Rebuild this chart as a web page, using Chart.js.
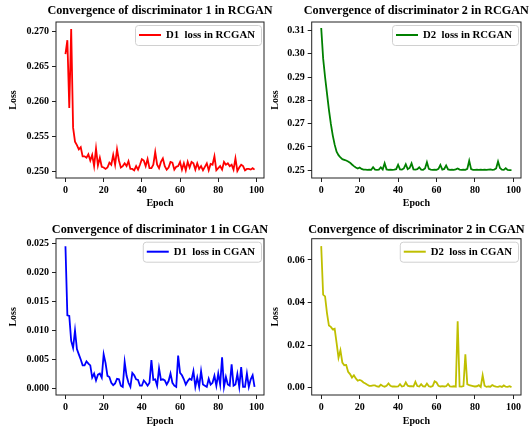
<!DOCTYPE html>
<html>
<head>
<meta charset="utf-8">
<script src="https://cdn.jsdelivr.net/npm/chart.js@4/dist/chart.umd.min.js"></script>
<style>
  html, body { margin:0; padding:0; background:#fff; overflow:hidden; }
  #wrap { position:relative; width:529px; height:432px; }
  canvas { position:absolute; }
</style>
</head>
<body>
<div id="wrap">
  <canvas id="c1" width="280" height="216" style="left:0px;top:0px;"></canvas>
  <canvas id="c2" width="265" height="216" style="left:264px;top:0px;"></canvas>
  <canvas id="c3" width="280" height="216" style="left:0px;top:216px;"></canvas>
  <canvas id="c4" width="265" height="216" style="left:264px;top:216px;"></canvas>
</div>
<script>
const serif = "'Liberation Serif', 'DejaVu Serif', 'Times New Roman', serif";

// epochs 0..99
const epochs = Array.from({ length: 100 }, (_, i) => i);
const xTicks = [0, 20, 40, 60, 80, 100];

const d1Rcgan = [
  0.2668, 0.2688, 0.2591, 0.2704, 0.2563, 0.2543, 0.2538, 0.2532, 0.2535, 0.2522,
  0.2522, 0.2520, 0.2525, 0.2516, 0.2524, 0.2508, 0.2533, 0.2509, 0.2520, 0.2507,
  0.2506, 0.2504, 0.2506, 0.2513, 0.2510, 0.2524, 0.2510, 0.2532, 0.2516, 0.2506,
  0.2508, 0.2512, 0.2508, 0.2515, 0.2504, 0.2504, 0.2502, 0.2508, 0.2503, 0.2510,
  0.2518, 0.2516, 0.2508, 0.2518, 0.2505, 0.2505, 0.2510, 0.2528, 0.2510, 0.2505,
  0.2514, 0.2519, 0.2508, 0.2503, 0.2506, 0.2514, 0.2513, 0.2503, 0.2507, 0.2508,
  0.2514, 0.2503, 0.2512, 0.2502, 0.2514, 0.2506, 0.2514, 0.2512, 0.2503, 0.2512,
  0.2504, 0.2508, 0.2502, 0.2507, 0.2512, 0.2502, 0.2511, 0.2510, 0.2522, 0.2502,
  0.2505, 0.2508, 0.2503, 0.2514, 0.2510, 0.2512, 0.2508, 0.2510, 0.2503, 0.2519,
  0.2501, 0.2506, 0.2510, 0.2508, 0.2502, 0.2504, 0.2504, 0.2503, 0.2505, 0.2503
];

const d2Rcgan = [
  0.3110, 0.2980, 0.2900, 0.2830, 0.2760, 0.2700, 0.2650, 0.2610, 0.2580, 0.2565,
  0.2555, 0.2548, 0.2545, 0.2542, 0.2538, 0.2533, 0.2525, 0.2518, 0.2512, 0.2508,
  0.2512, 0.2506, 0.2503, 0.2503, 0.2502, 0.2503, 0.2502, 0.2513, 0.2503, 0.2502,
  0.2503, 0.2513, 0.2504, 0.2530, 0.2504, 0.2502, 0.2503, 0.2502, 0.2503, 0.2505,
  0.2524, 0.2504, 0.2503, 0.2508, 0.2526, 0.2505, 0.2510, 0.2530, 0.2504, 0.2503,
  0.2505, 0.2513, 0.2503, 0.2502, 0.2508, 0.2535, 0.2506, 0.2503, 0.2502, 0.2503,
  0.2502, 0.2506, 0.2523, 0.2503, 0.2506, 0.2521, 0.2504, 0.2502, 0.2503, 0.2502,
  0.2504, 0.2508, 0.2503, 0.2502, 0.2503, 0.2502, 0.2506, 0.2541, 0.2505, 0.2502,
  0.2502, 0.2503, 0.2502, 0.2503, 0.2502, 0.2503, 0.2502, 0.2503, 0.2504, 0.2502,
  0.2503, 0.2508, 0.2538, 0.2510, 0.2503, 0.2502, 0.2509, 0.2502, 0.2501, 0.2501
];

const d1Cgan = [
  0.0245, 0.0126, 0.0125, 0.0082, 0.0070, 0.0100, 0.0068, 0.0059, 0.0050, 0.0040,
  0.0040, 0.0047, 0.0043, 0.0040, 0.0019, 0.0026, 0.0014, 0.0024, 0.0026, 0.0019,
  0.0059, 0.0044, 0.0022, 0.0020, 0.0010, 0.0006, 0.0009, 0.0017, 0.0016, 0.0005,
  0.0003, 0.0046, 0.0022, 0.0010, 0.0003, 0.0027, 0.0023, 0.0016, 0.0015, 0.0005,
  0.0005, 0.0014, 0.0010, 0.0005, 0.0010, 0.0049, 0.0015, 0.0016, 0.0005, 0.0035,
  0.0015, 0.0016, 0.0014, 0.0007, 0.0013, 0.0026, 0.0010, 0.0005, 0.0003, 0.0057,
  0.0027, 0.0023, 0.0016, 0.0007, 0.0013, 0.0017, 0.0015, 0.0030, 0.0003, 0.0019,
  0.0003, 0.0030, 0.0007, 0.0005, 0.0003, 0.0017, 0.0007, 0.0010, 0.0022, 0.0005,
  0.0026, 0.0007, 0.0054, 0.0003, 0.0020, 0.0007, 0.0005, 0.0042, 0.0005, 0.0007,
  0.0025, 0.0003, 0.0037, 0.0003, 0.0003, 0.0026, 0.0003, 0.0016, 0.0023, 0.0003
];

const d2Cgan = [
  0.0665, 0.0437, 0.0429, 0.0351, 0.0292, 0.0286, 0.0274, 0.0277, 0.0211, 0.0141,
  0.0176, 0.0118, 0.0106, 0.0107, 0.0075, 0.0064, 0.0048, 0.0059, 0.0044, 0.0033,
  0.0037, 0.0033, 0.0025, 0.0020, 0.0014, 0.0009, 0.0009, 0.0011, 0.0011, 0.0006,
  0.0005, 0.0014, 0.0008, 0.0005, 0.0009, 0.0020, 0.0009, 0.0006, 0.0006, 0.0005,
  0.0006, 0.0017, 0.0006, 0.0008, 0.0025, 0.0010, 0.0007, 0.0008, 0.0006, 0.0028,
  0.0008, 0.0006, 0.0017, 0.0007, 0.0006, 0.0020, 0.0007, 0.0005, 0.0008, 0.0030,
  0.0025, 0.0009, 0.0006, 0.0008, 0.0006, 0.0007, 0.0018, 0.0006, 0.0005, 0.0007,
  0.0005, 0.0312, 0.0006, 0.0005, 0.0008, 0.0157, 0.0017, 0.0012, 0.0010, 0.0008,
  0.0006, 0.0007, 0.0012, 0.0004, 0.0059, 0.0010, 0.0004, 0.0006, 0.0005, 0.0013,
  0.0008, 0.0005, 0.0004, 0.0007, 0.0004, 0.0011, 0.0005, 0.0004, 0.0007, 0.0003
];

const yTicks1 = [0.250, 0.255, 0.260, 0.265, 0.270];
const yTicks2 = [0.25, 0.26, 0.27, 0.28, 0.29, 0.30, 0.31];
const yTicks3 = [0.000, 0.005, 0.010, 0.015, 0.020, 0.025];
const yTicks4 = [0.00, 0.02, 0.04, 0.06];

// spines on all four sides
const frame = {
  id: 'frame',
  afterDatasetsDraw(chart) {
    const { ctx, chartArea: a } = chart;
    ctx.save();
    ctx.strokeStyle = '#222';
    ctx.lineWidth = 1;
    ctx.strokeRect(a.left, a.top, a.right - a.left, a.bottom - a.top);
    ctx.restore();
  }
};

// matplotlib-like legend inside the upper right corner
const boxLegend = {
  id: 'boxLegend',
  afterDatasetsDraw(chart, args, opts) {
    const { ctx, chartArea: a } = chart;
    const ds = chart.data.datasets[0];
    ctx.save();
    ctx.font = `bold ${opts.size}px ${serif}`;
    const tw = ctx.measureText(ds.label).width;
    const w = 4 + 22 + 5 + tw + 6, h = 20;
    const x = a.right - 3 - w, y = a.top + 3;
    ctx.beginPath();
    ctx.roundRect(x + 0.5, y + 0.5, w, h, 3);
    ctx.fillStyle = 'rgba(255,255,255,0.8)';
    ctx.fill();
    ctx.strokeStyle = '#d0d0d0';
    ctx.lineWidth = 1;
    ctx.stroke();
    ctx.beginPath();
    ctx.moveTo(x + 4, y + h / 2);
    ctx.lineTo(x + 26, y + h / 2);
    ctx.strokeStyle = ds.borderColor;
    ctx.lineWidth = 2;
    ctx.stroke();
    ctx.fillStyle = '#000';
    ctx.textAlign = 'left';
    ctx.textBaseline = 'middle';
    ctx.fillText(ds.label, x + 31, y + h / 2 + 0.5);
    ctx.restore();
  }
};

// title centred over the axes box
const axTitle = {
  id: 'axTitle',
  afterDraw(chart, args, opts) {
    const { ctx, chartArea: a } = chart;
    ctx.save();
    ctx.font = `bold ${opts.size}px ${serif}`;
    ctx.fillStyle = '#000';
    ctx.textAlign = 'center';
    ctx.textBaseline = 'middle';
    ctx.fillText(opts.text, (a.left + a.right) / 2, opts.y);
    ctx.restore();
  }
};

function makeChart(cfg) {
  const tickFont = { family: serif, size: 10, weight: 'bold' };
  const gridCfg = { drawOnChartArea: false, drawTicks: true, tickLength: 4, color: '#222', lineWidth: 1 };
  new Chart(document.getElementById(cfg.id), {
    type: 'line',
    data: {
      datasets: [{
        label: cfg.label,
        data: epochs.map((e, i) => ({ x: e, y: cfg.values[i] })),
        borderColor: cfg.color,
        borderWidth: 1.8,
        pointRadius: 0,
        tension: 0,
        fill: false
      }]
    },
    options: {
      responsive: false,
      animation: false,
      layout: { padding: { left: 0, right: cfg.padRight, top: cfg.top, bottom: 0 } },
      plugins: {
        legend: { display: false },
        tooltip: { enabled: false },
        axTitle: { text: cfg.title, size: 12.2, y: cfg.titleY },
        boxLegend: { size: 10.75 }
      },
      scales: {
        x: {
          type: 'linear', min: -4.95, max: 103.95,
          afterBuildTicks: s => { s.ticks = xTicks.map(v => ({ value: v })); },
          afterFit: s => { s.height = cfg.xHeight; },
          grid: gridCfg,
          border: { display: false },
          ticks: { font: tickFont, color: '#000', padding: 2, maxRotation: 0 },
          title: { display: true, text: 'Epoch', font: tickFont, color: '#000', padding: { top: 0, bottom: cfg.xTitlePad } }
        },
        y: {
          min: cfg.yMin, max: cfg.yMax,
          afterBuildTicks: s => { s.ticks = cfg.yTicks.map(v => ({ value: v })); },
          afterFit: s => { s.width = cfg.yWidth; },
          grid: gridCfg,
          border: { display: false },
          ticks: { font: tickFont, color: '#000', padding: 3, callback: v => Number(v).toFixed(cfg.dec) },
          title: { display: true, text: 'Loss', font: tickFont, color: '#000', padding: { top: cfg.yTitlePad, bottom: 0 } }
        }
      }
    },
    plugins: [frame, boxLegend, axTitle]
  });
}

makeChart({ id: 'c1', label: 'D1  loss in RCGAN', title: 'Convergence of discriminator 1 in RCGAN',
  values: d1Rcgan, color: '#ff0000', yMin: 0.2491, yMax: 0.2714, yTicks: yTicks1, dec: 3,
  yWidth: 56, padRight: 16, top: 22, titleY: 10.7, xHeight: 38, xTitlePad: 6.7, yTitlePad: 7.3 });

makeChart({ id: 'c2', label: 'D2  loss in RCGAN', title: 'Convergence of discriminator 2 in RCGAN',
  values: d2Rcgan, color: '#008000', yMin: 0.2467, yMax: 0.3136, yTicks: yTicks2, dec: 2,
  yWidth: 47.7, padRight: 8, top: 22, titleY: 10.7, xHeight: 38, xTitlePad: 6.7, yTitlePad: 5.7 });

makeChart({ id: 'c3', label: 'D1  loss in CGAN', title: 'Convergence of discriminator 1 in CGAN',
  values: d1Cgan, color: '#0000ff', yMin: -0.0011, yMax: 0.0258, yTicks: yTicks3, dec: 3,
  yWidth: 56, padRight: 16, top: 22.7, titleY: 14, xHeight: 37, xTitlePad: 4.3, yTitlePad: 7.3 });

makeChart({ id: 'c4', label: 'D2  loss in CGAN', title: 'Convergence of discriminator 2 in CGAN',
  values: d2Cgan, color: '#bfbf00', yMin: -0.0034, yMax: 0.0700, yTicks: yTicks4, dec: 2,
  yWidth: 47.7, padRight: 8, top: 22.7, titleY: 14, xHeight: 37, xTitlePad: 4.3, yTitlePad: 5.7 });
</script>
</body>
</html>
